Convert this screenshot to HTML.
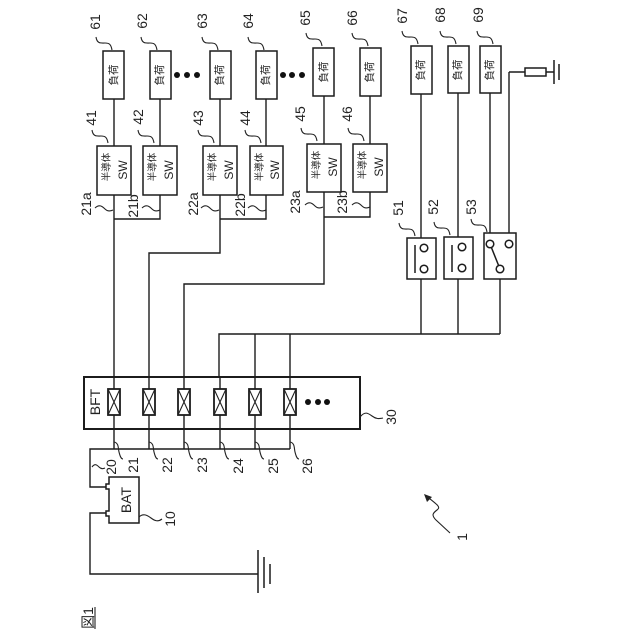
<!DOCTYPE html>
<html><head><meta charset="utf-8"><style>
html,body{margin:0;padding:0;background:#fff}
svg{display:block}
text{font-family:"Liberation Sans","Noto Sans CJK JP",sans-serif;fill:#222;text-anchor:middle;dominant-baseline:central}
.n{font-size:14px}.j{font-size:10.5px}.h{font-size:9.5px}.s{font-size:12px}
.l{fill:none;stroke:#1c1c1c;stroke-width:1.4}
.b{fill:#fff;stroke:#1c1c1c;stroke-width:1.5}
.k{fill:none;stroke:#222;stroke-width:1.1}
.g{fill:none;stroke:#1c1c1c;stroke-width:1.5}
</style></head><body>
<svg width="640" height="640" viewBox="0 0 640 640" xmlns="http://www.w3.org/2000/svg">
<defs>
<path id="w" class="k" d="M0,0C1,7 5,6 9,6C13,6 15,7 16,13"/>
<path id="v" class="k" d="M0,0C4,-4 7,-2 10,1C13,4 16,3 18,2"/>
<path id="d" class="k" d="M0,0C5,1 4,6 5,10C6,14 7,17 9,17"/>
<g id="c"><rect x="-6" y="0" width="12" height="26" fill="#fff" stroke="#1c1c1c" stroke-width="1.8"/><path d="M-6,0L6,26M6,0L-6,26" class="k"/></g>
</defs>

<!-- main wiring -->
<path class="l" d="M114,99V146M160,99V146M220,99V146M266,99V146M324,96V144M370,96V144"/>
<path class="l" d="M114,195V377M160,195V219H114M220,195V253H149V377M266,195V219H220"/>
<path class="l" d="M324,192V284H184V377M370,192V217H324"/>
<path class="l" d="M421,94V238M458,93V237M490,93V233M509,72V233"/>
<path class="l" d="M421,279V334M458,279V334M500,279V334M219,377V334H500M255,377V334M290,377V334"/>
<path class="l" d="M509,72H525M546,72H554"/>
<path class="g" d="M554,60V84M559,64V80"/>
<rect class="b" x="525" y="68" width="21" height="8"/>

<!-- loads -->
<rect class="b" x="103" y="51" width="21" height="48"/>
<rect class="b" x="150" y="51" width="21" height="48"/>
<rect class="b" x="210" y="51" width="21" height="48"/>
<rect class="b" x="256" y="51" width="21" height="48"/>
<rect class="b" x="313" y="48" width="21" height="48"/>
<rect class="b" x="360" y="48" width="21" height="48"/>
<rect class="b" x="411" y="46" width="21" height="48"/>
<rect class="b" x="448" y="46" width="21" height="47"/>
<rect class="b" x="480" y="46" width="21" height="47"/>
<g class="j">
<text transform="translate(114,75) rotate(-90)">負荷</text>
<text transform="translate(160,75) rotate(-90)">負荷</text>
<text transform="translate(220,75) rotate(-90)">負荷</text>
<text transform="translate(266,75) rotate(-90)">負荷</text>
<text transform="translate(324,72) rotate(-90)">負荷</text>
<text transform="translate(370,72) rotate(-90)">負荷</text>
<text transform="translate(421,70) rotate(-90)">負荷</text>
<text transform="translate(458,70) rotate(-90)">負荷</text>
<text transform="translate(490,70) rotate(-90)">負荷</text>
</g>

<!-- semiconductor switches -->
<rect class="b" x="97" y="146" width="34" height="49"/>
<rect class="b" x="143" y="146" width="34" height="49"/>
<rect class="b" x="203" y="146" width="34" height="49"/>
<rect class="b" x="250" y="146" width="33" height="49"/>
<rect class="b" x="307" y="144" width="34" height="48"/>
<rect class="b" x="353" y="144" width="34" height="48"/>
<g class="h">
<text transform="translate(107,167) rotate(-90)">半導体</text>
<text transform="translate(153,167) rotate(-90)">半導体</text>
<text transform="translate(213,167) rotate(-90)">半導体</text>
<text transform="translate(260,167) rotate(-90)">半導体</text>
<text transform="translate(317,165) rotate(-90)">半導体</text>
<text transform="translate(363,165) rotate(-90)">半導体</text>
</g>
<g class="s">
<text transform="translate(123,170) rotate(-90)">SW</text>
<text transform="translate(169,170) rotate(-90)">SW</text>
<text transform="translate(229,170) rotate(-90)">SW</text>
<text transform="translate(275,170) rotate(-90)">SW</text>
<text transform="translate(333,167) rotate(-90)">SW</text>
<text transform="translate(379,167) rotate(-90)">SW</text>
</g>

<!-- relays -->
<rect class="b" x="407" y="238" width="29" height="41"/>
<rect class="b" x="444" y="237" width="29" height="42"/>
<rect class="b" x="484" y="233" width="32" height="46"/>
<path class="g" d="M415,245V273M452,245V272M490,244L500,269"/>
<g class="b" stroke-width="1">
<circle cx="424" cy="248" r="3.8"/><circle cx="424" cy="269" r="3.8"/>
<circle cx="462" cy="247" r="3.8"/><circle cx="462" cy="268" r="3.8"/>
<circle cx="490" cy="244" r="3.8"/><circle cx="509" cy="244" r="3.8"/><circle cx="500" cy="269" r="3.8"/>
</g>

<!-- BFT -->
<rect x="84" y="377" width="276" height="52" fill="#fff" stroke="#1c1c1c" stroke-width="2"/>
<path class="l" d="M114,377V449M149,377V449M184,377V449M220,377V449M255,377V449M290,377V449"/>
<use href="#c" x="114" y="389"/><use href="#c" x="149" y="389"/><use href="#c" x="184" y="389"/>
<use href="#c" x="220" y="389"/><use href="#c" x="255" y="389"/><use href="#c" x="290" y="389"/>
<text class="n" transform="translate(95,402) rotate(-90)">BFT</text>
<g fill="#111">
<circle cx="308" cy="402" r="3"/><circle cx="318" cy="402" r="3"/><circle cx="327" cy="402" r="3"/>
<circle cx="177" cy="75" r="3"/><circle cx="187" cy="75" r="3"/><circle cx="197" cy="75" r="3"/>
<circle cx="283" cy="75" r="3"/><circle cx="292" cy="75" r="3"/><circle cx="302" cy="75" r="3"/>
</g>

<!-- battery wiring -->
<path class="l" d="M290,449H90V487H106M106,513H90V574H258"/>
<path class="g" d="M258,550V593M264,557V588M270,564V584"/>
<path class="b" d="M109,477H139V523H109V516H106V511H109V489H106V484H109Z"/>
<text class="n" transform="translate(126,500) rotate(-90)">BAT</text>

<!-- leaders -->
<use href="#w" x="96" y="37"/><use href="#w" x="141" y="37"/><use href="#w" x="202" y="37"/><use href="#w" x="248" y="37"/>
<use href="#w" x="306" y="33"/><use href="#w" x="352" y="33"/><use href="#w" x="402" y="31"/><use href="#w" x="440" y="31"/><use href="#w" x="477" y="31"/>
<use href="#w" x="92" y="130"/><use href="#w" x="138" y="130"/><use href="#w" x="198" y="130"/><use href="#w" x="245" y="130"/>
<use href="#w" x="301" y="128"/><use href="#w" x="348" y="128"/>
<use href="#w" x="399" y="223"/><use href="#w" x="434" y="222"/><use href="#w" x="471" y="219"/>
<use href="#v" x="95" y="208"/><use href="#v" x="142" y="208"/><use href="#v" x="201" y="208"/><use href="#v" x="248" y="208"/>
<use href="#v" x="305" y="205"/><use href="#v" x="352" y="205"/>
<use href="#d" x="114" y="442"/><use href="#d" x="149" y="442"/><use href="#d" x="184" y="442"/>
<use href="#d" x="220" y="442"/><use href="#d" x="255" y="442"/><use href="#d" x="290" y="442"/>
<path class="k" d="M92,467C95,463 97,465 99,467C101,469 103,469 105,468"/>
<path class="k" d="M139,517C143,513 147,515 151,518C155,521 158,522 162,519"/>
<path class="k" d="M360,417C365,411 368,413 372,416C376,419 379,419 383,418"/>
<path class="k" d="M450,533L436,520C431,515 433,513 437,510C441,507 438,505 425,495"/>
<path d="M424,494L432,497L427,502Z" fill="#222"/>

<!-- labels -->
<g class="n">
<text transform="translate(95,22) rotate(-90)">61</text>
<text transform="translate(142,21) rotate(-90)">62</text>
<text transform="translate(202,21) rotate(-90)">63</text>
<text transform="translate(248,21) rotate(-90)">64</text>
<text transform="translate(305,18) rotate(-90)">65</text>
<text transform="translate(352,18) rotate(-90)">66</text>
<text transform="translate(402,16) rotate(-90)">67</text>
<text transform="translate(440,15) rotate(-90)">68</text>
<text transform="translate(478,15) rotate(-90)">69</text>
<text transform="translate(91,118) rotate(-90)">41</text>
<text transform="translate(138,117) rotate(-90)">42</text>
<text transform="translate(198,118) rotate(-90)">43</text>
<text transform="translate(245,118) rotate(-90)">44</text>
<text transform="translate(300,114) rotate(-90)">45</text>
<text transform="translate(347,114) rotate(-90)">46</text>
<text transform="translate(86,204) rotate(-90)">21a</text>
<text transform="translate(133,206) rotate(-90)">21b</text>
<text transform="translate(193,204) rotate(-90)">22a</text>
<text transform="translate(240,205) rotate(-90)">22b</text>
<text transform="translate(295,202) rotate(-90)">23a</text>
<text transform="translate(342,202) rotate(-90)">23b</text>
<text transform="translate(398,208) rotate(-90)">51</text>
<text transform="translate(433,207) rotate(-90)">52</text>
<text transform="translate(471,207) rotate(-90)">53</text>
<text transform="translate(133,465) rotate(-90)">21</text>
<text transform="translate(167,465) rotate(-90)">22</text>
<text transform="translate(202,465) rotate(-90)">23</text>
<text transform="translate(238,466) rotate(-90)">24</text>
<text transform="translate(273,466) rotate(-90)">25</text>
<text transform="translate(307,466) rotate(-90)">26</text>
<text transform="translate(111,467) rotate(-90)">20</text>
<text transform="translate(170,519) rotate(-90)">10</text>
<text transform="translate(391,417) rotate(-90)">30</text>
<text transform="translate(462,537) rotate(-90)">1</text>
<text transform="translate(88,618) rotate(-90)">図1</text>
</g>
<path class="k" d="M95,607V629"/>
</svg>
</body></html>
